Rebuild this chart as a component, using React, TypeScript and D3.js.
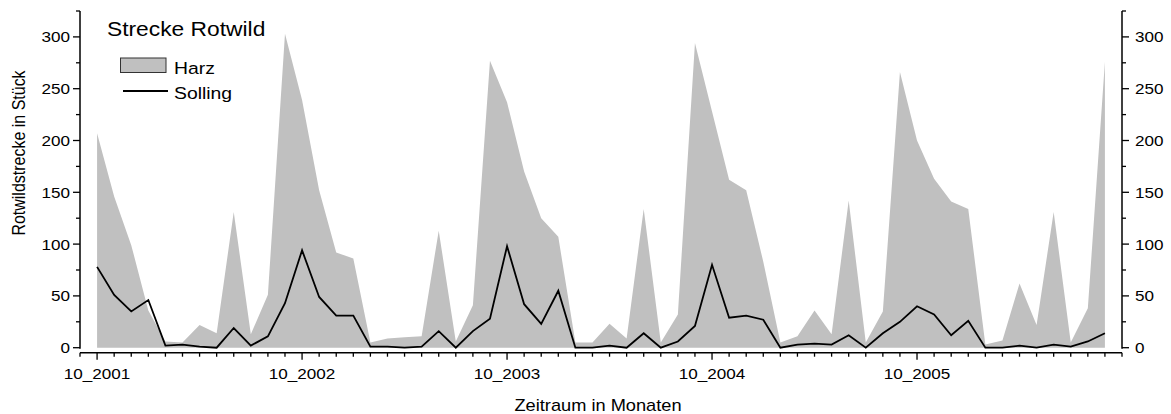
import React from "react";
import * as d3 from "d3";

// monthly categories, 10_2001 .. 09_2006
const months = [
  "10_2001", "11_2001", "12_2001", "01_2002", "02_2002", "03_2002", "04_2002", "05_2002", "06_2002", "07_2002", "08_2002", "09_2002",
  "10_2002", "11_2002", "12_2002", "01_2003", "02_2003", "03_2003", "04_2003", "05_2003", "06_2003", "07_2003", "08_2003", "09_2003",
  "10_2003", "11_2003", "12_2003", "01_2004", "02_2004", "03_2004", "04_2004", "05_2004", "06_2004", "07_2004", "08_2004", "09_2004",
  "10_2004", "11_2004", "12_2004", "01_2005", "02_2005", "03_2005", "04_2005", "05_2005", "06_2005", "07_2005", "08_2005", "09_2005",
  "10_2005", "11_2005", "12_2005", "01_2006", "02_2006", "03_2006", "04_2006", "05_2006", "06_2006", "07_2006", "08_2006", "09_2006",
];

const harz = [
  207, 146, 99, 36, 6, 5, 22, 14, 131, 13, 51, 303,
  239, 152, 92, 86, 5, 9, 10, 11, 113, 6, 41, 277,
  237, 170, 125, 107, 5, 5, 23, 9, 134, 5, 32, 294,
  228, 162, 152, 83, 5, 11, 36, 13, 142, 5, 35, 266,
  200, 163, 141, 134, 3, 7, 62, 22, 131, 5, 38, 276,
];

const solling = [
  78, 51, 35, 46, 2, 3, 1, 0, 19, 2, 11, 43,
  94, 49, 31, 31, 1, 1, 0, 1, 16, 0, 16, 28,
  98, 42, 23, 55, 0, 0, 2, 0, 14, 0, 6, 21,
  80, 29, 31, 27, 0, 3, 4, 3, 12, 0, 14, 25,
  40, 32, 12, 26, 0, 0, 2, 0, 3, 1, 6, 14,
];

const yTicks = [0, 50, 100, 150, 200, 250, 300];
const xTickLabels = ["10_2001", "10_2002", "10_2003", "10_2004", "10_2005"];

const W = 1171;
const H = 414;
const left = 80;
const right = 1122;
const top = 11;
const zeroY = 347.7;
const xAxisY = 352.7;
const sx = 1.14; // source text is a bit wider than tall
const font = "'Liberation Sans', Arial, sans-serif";

function Txt(props: { x: number; y: number; size: number; anchor?: string; children: React.ReactNode }) {
  return (
    <text
      transform={`translate(${props.x},${props.y}) scale(${sx},1)`}
      fontSize={props.size}
      textAnchor={props.anchor || "start"}
      fontFamily={font}
      fill="#000"
    >
      {props.children}
    </text>
  );
}

export default function App() {
  const x = d3.scaleLinear().domain([-1, months.length]).range([left, right]);
  const y = d3.scaleLinear().domain([0, 325]).range([zeroY, top]);

  const area = d3
    .area<number>()
    .x((_, i) => x(i))
    .y0(y(0))
    .y1((d) => y(d));
  const line = d3
    .line<number>()
    .x((_, i) => x(i))
    .y((d) => y(d));

  const xMinor = d3.range(-1, months.length + 1);
  const yMinor = d3.range(0, 326, 25);

  return (
    <svg width={W} height={H} style={{ position: "absolute", left: 0, top: 0 }}>
      <rect width={W} height={H} fill="#fff" />
      <path d={area(harz) || ""} fill="#c0c0c0" />
      <path d={line(solling) || ""} fill="none" stroke="#000" strokeWidth={1.8} strokeLinejoin="miter" />

      {/* left axis */}
      <line x1={left} x2={left} y1={top} y2={zeroY + 1} stroke="#000" strokeWidth={1.5} />
      {yMinor.map((v) => (
        <line key={"l" + v} x1={left - (v % 50 === 0 ? 7 : 4)} x2={left} y1={y(v)} y2={y(v)} stroke="#000" strokeWidth={1.3} />
      ))}
      {yTicks.map((v) => (
        <Txt key={"lt" + v} x={left - 10} y={y(v) + 5.5} size={15} anchor="end">
          {v}
        </Txt>
      ))}

      {/* right axis */}
      <line x1={right} x2={right} y1={top} y2={zeroY + 1} stroke="#000" strokeWidth={1.5} />
      {yMinor.map((v) => (
        <line key={"r" + v} x1={right} x2={right + (v % 50 === 0 ? 7 : 4)} y1={y(v)} y2={y(v)} stroke="#000" strokeWidth={1.3} />
      ))}
      {yTicks.map((v) => (
        <Txt key={"rt" + v} x={right + 13} y={y(v) + 5.5} size={15}>
          {v}
        </Txt>
      ))}

      {/* bottom axis */}
      <line x1={left} x2={right} y1={xAxisY} y2={xAxisY} stroke="#000" strokeWidth={1.5} />
      {xMinor.map((i) => (
        <line
          key={"x" + i}
          x1={x(i)}
          x2={x(i)}
          y1={xAxisY}
          y2={xAxisY + (i >= 0 && i < months.length && i % 12 === 0 ? 7 : 4)}
          stroke="#000"
          strokeWidth={1.3}
        />
      ))}
      {xTickLabels.map((lab) => (
        <Txt key={lab} x={x(months.indexOf(lab))} y={379} size={15} anchor="middle">
          {lab}
        </Txt>
      ))}

      {/* axis titles */}
      <text
        transform={`translate(25,153) rotate(-90) scale(1,${sx})`}
        fontSize={16}
        textAnchor="middle"
        fontFamily={font}
      >
        Rotwildstrecke in Stück
      </text>
      <Txt x={598} y={410.5} size={16} anchor="middle">
        Zeitraum in Monaten
      </Txt>

      {/* title + legend */}
      <Txt x={107} y={36} size={20}>
        Strecke Rotwild
      </Txt>
      <rect x={120.5} y={58} width={45.5} height={14.5} fill="#c0c0c0" stroke="#333" strokeWidth={1} />
      <Txt x={174} y={74} size={17}>
        Harz
      </Txt>
      <line x1={123} x2={168} y1={91} y2={91} stroke="#000" strokeWidth={1.8} />
      <Txt x={174} y={98.5} size={17}>
        Solling
      </Txt>
    </svg>
  );
}
